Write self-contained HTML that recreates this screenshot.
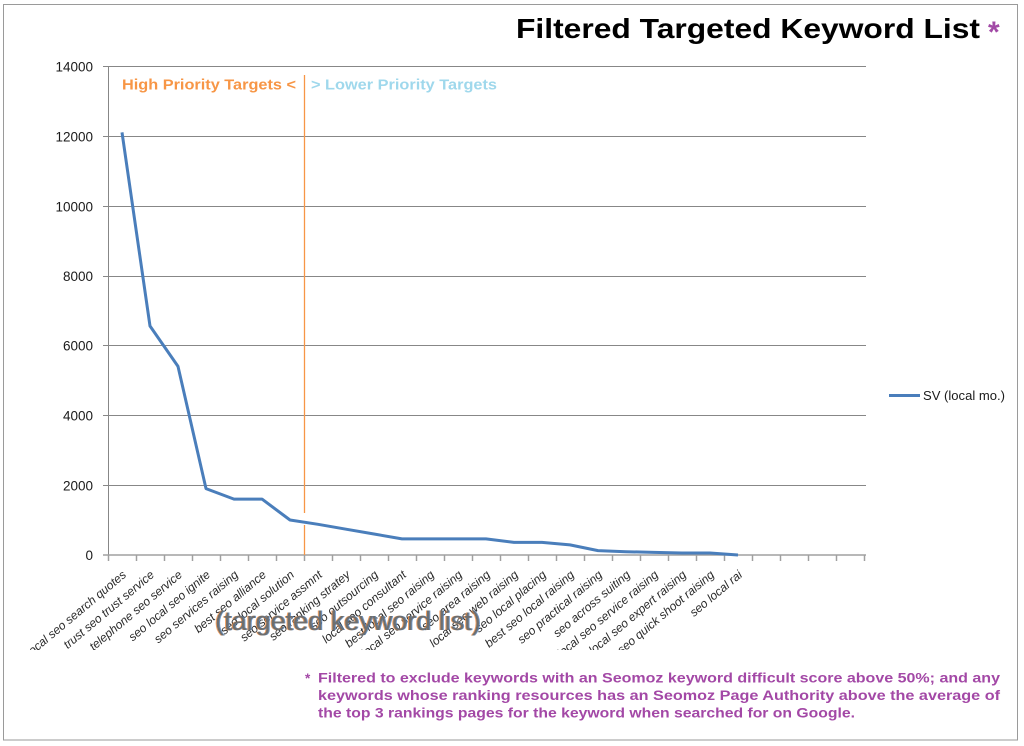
<!DOCTYPE html>
<html>
<head>
<meta charset="utf-8">
<style>
  html, body { margin: 0; padding: 0; background: #ffffff; }
  svg { display: block; }
  text { font-family: "Liberation Sans", "DejaVu Sans", sans-serif; }
</style>
</head>
<body>
<svg width="1024" height="746" viewBox="0 0 1024 746" xmlns="http://www.w3.org/2000/svg">
  <rect x="0" y="0" width="1024" height="746" fill="#ffffff"/>
  <!-- outer frame -->
  <rect x="3.5" y="4.5" width="1014" height="735.5" fill="none" stroke="#9a9a9a" stroke-width="1"/>

  <!-- Title -->
  <text x="516" y="38" font-size="28" font-weight="bold" fill="#000" textLength="464" lengthAdjust="spacingAndGlyphs">Filtered Targeted Keyword List</text>
  <text x="988" y="42" font-size="30" font-weight="bold" fill="#a24aa6">*</text>

  <!-- Horizontal gridlines -->
  <g stroke="#878787" stroke-width="1">
    <line x1="103" y1="66.5" x2="866" y2="66.5"/>
    <line x1="103" y1="136.5" x2="866" y2="136.5"/>
    <line x1="103" y1="206.5" x2="866" y2="206.5"/>
    <line x1="103" y1="276.5" x2="866" y2="276.5"/>
    <line x1="103" y1="345.5" x2="866" y2="345.5"/>
    <line x1="103" y1="415.5" x2="866" y2="415.5"/>
    <line x1="103" y1="485.5" x2="866" y2="485.5"/>
    <!-- left axis -->
    <line x1="108.5" y1="66" x2="108.5" y2="555"/>
  </g>
  <!-- bottom axis -->
  <g stroke="#a0a0a0" stroke-width="1.5">
    <line x1="103" y1="555" x2="866" y2="555"/>
    <line x1="108.5" y1="555" x2="108.5" y2="561"/>
    <line x1="136.5" y1="555" x2="136.5" y2="561"/>
    <line x1="164.5" y1="555" x2="164.5" y2="561"/>
    <line x1="192.5" y1="555" x2="192.5" y2="561"/>
    <line x1="220.5" y1="555" x2="220.5" y2="561"/>
    <line x1="248.5" y1="555" x2="248.5" y2="561"/>
    <line x1="276.5" y1="555" x2="276.5" y2="561"/>
    <line x1="304.5" y1="555" x2="304.5" y2="561"/>
    <line x1="332.5" y1="555" x2="332.5" y2="561"/>
    <line x1="360.5" y1="555" x2="360.5" y2="561"/>
    <line x1="388.5" y1="555" x2="388.5" y2="561"/>
    <line x1="416.5" y1="555" x2="416.5" y2="561"/>
    <line x1="444.5" y1="555" x2="444.5" y2="561"/>
    <line x1="472.5" y1="555" x2="472.5" y2="561"/>
    <line x1="500.5" y1="555" x2="500.5" y2="561"/>
    <line x1="528.5" y1="555" x2="528.5" y2="561"/>
    <line x1="556.5" y1="555" x2="556.5" y2="561"/>
    <line x1="584.5" y1="555" x2="584.5" y2="561"/>
    <line x1="612.5" y1="555" x2="612.5" y2="561"/>
    <line x1="640.5" y1="555" x2="640.5" y2="561"/>
    <line x1="668.5" y1="555" x2="668.5" y2="561"/>
    <line x1="696.5" y1="555" x2="696.5" y2="561"/>
    <line x1="724.5" y1="555" x2="724.5" y2="561"/>
    <line x1="752.5" y1="555" x2="752.5" y2="561"/>
    <line x1="780.5" y1="555" x2="780.5" y2="561"/>
    <line x1="808.5" y1="555" x2="808.5" y2="561"/>
    <line x1="836.5" y1="555" x2="836.5" y2="561"/>
    <line x1="864.5" y1="555" x2="864.5" y2="561"/>
  </g>

  <!-- Y tick labels -->
  <g font-size="13.5" fill="#1a1a1a" text-anchor="end">
    <text x="93" y="71.5">14000</text>
    <text x="93" y="141.5">12000</text>
    <text x="93" y="211.5">10000</text>
    <text x="93" y="281">8000</text>
    <text x="93" y="350.5">6000</text>
    <text x="93" y="420.5">4000</text>
    <text x="93" y="490.5">2000</text>
    <text x="93" y="560">0</text>
  </g>

  <!-- priority divider -->
  <line x1="304.5" y1="75" x2="304.5" y2="513" stroke="#f79646" stroke-width="1.3"/>
  <line x1="304.5" y1="525" x2="304.5" y2="555" stroke="#f79646" stroke-width="1.3"/>
  <text x="122" y="89.5" font-size="15" font-weight="bold" fill="#f79646" textLength="174" lengthAdjust="spacingAndGlyphs">High Priority Targets  &lt;</text>
  <text x="311" y="89.5" font-size="15" font-weight="bold" fill="#9fd8ec" textLength="186" lengthAdjust="spacingAndGlyphs">&gt; Lower Priority Targets</text>

  <!-- data series -->
  <polyline fill="none" stroke="#4a7ebb" stroke-width="3" stroke-linejoin="round"
    points="122,132.4 150,326 178,366.4 206,488.6 234,499.1 262,499.1 290,520 318,524.3 346,529.2 374,534 402,538.9 430,538.9 458,538.9 486,538.9 514,542.4 542,542.4 570,544.9 598,550.6 626,551.7 654,552.4 682,553 710,553 738,555"/>

  <!-- legend -->
  <line x1="889" y1="395.5" x2="920" y2="395.5" stroke="#4a7ebb" stroke-width="3"/>
  <text x="923" y="400" font-size="12.5" fill="#1a1a1a" textLength="82" lengthAdjust="spacingAndGlyphs">SV (local mo.)</text>

  <!-- x category labels (rotated, garbled in source) -->
  <defs>
    <clipPath id="lblclip"><rect x="30" y="562" width="860" height="88"/></clipPath>
  </defs>
  <g clip-path="url(#lblclip)" font-size="12" fill="#2a2a2a" font-style="italic" text-anchor="end">
    <text transform="translate(127,576) rotate(-40)">local seo search quotes</text>
    <text transform="translate(155,576) rotate(-40)">trust seo trust service</text>
    <text transform="translate(183,576) rotate(-40)">telephone seo service</text>
    <text transform="translate(211,576) rotate(-40)">seo local seo ignite</text>
    <text transform="translate(239,576) rotate(-40)">seo services raising</text>
    <text transform="translate(267,576) rotate(-40)">best seo alliance</text>
    <text transform="translate(295,576) rotate(-40)">seo local solution</text>
    <text transform="translate(323,576) rotate(-40)">seo service assmnt</text>
    <text transform="translate(351,576) rotate(-40)">seo ranking stratey</text>
    <text transform="translate(379,576) rotate(-40)">seo outsourcing</text>
    <text transform="translate(407,576) rotate(-40)">local seo consultant</text>
    <text transform="translate(435,576) rotate(-40)">best local seo raising</text>
    <text transform="translate(463,576) rotate(-40)">local seo service raising</text>
    <text transform="translate(491,576) rotate(-40)">seo area raising</text>
    <text transform="translate(519,576) rotate(-40)">local seo web raising</text>
    <text transform="translate(547,576) rotate(-40)">seo local placing</text>
    <text transform="translate(575,576) rotate(-40)">best seo local raising</text>
    <text transform="translate(603,576) rotate(-40)">seo practical raising</text>
    <text transform="translate(631,576) rotate(-40)">seo across suiting</text>
    <text transform="translate(659,576) rotate(-40)">local seo service raising</text>
    <text transform="translate(687,576) rotate(-40)">local seo expert raising</text>
    <text transform="translate(715,576) rotate(-40)">seo quick shoot raising</text>
    <text transform="translate(743,576) rotate(-40)">seo local rai</text>
  </g>

  <!-- axis title overlay with chromatic fringe -->
  <g font-size="27">
    <text x="214" y="630" fill="#f08a3c" opacity="0.8">(targeted keyword list)</text>
    <text x="216" y="630" fill="#4a7ebb" opacity="0.8">(targeted keyword list)</text>
    <text x="215" y="630" fill="#6e6e6e">(targeted keyword list)</text>
  </g>

  <!-- footnote -->
  <g font-size="13.5" font-weight="bold" fill="#a348a6">
    <text x="305" y="683">*</text>
    <text x="318" y="682.5" textLength="682" lengthAdjust="spacingAndGlyphs">Filtered to exclude keywords with an Seomoz keyword difficult score above 50%; and any</text>
    <text x="318" y="700" textLength="682" lengthAdjust="spacingAndGlyphs">keywords whose ranking resources has an Seomoz Page Authority above the average of</text>
    <text x="318" y="717.5" textLength="537" lengthAdjust="spacingAndGlyphs">the top 3 rankings pages for the keyword when searched for on Google.</text>
  </g>
</svg>
</body>
</html>
